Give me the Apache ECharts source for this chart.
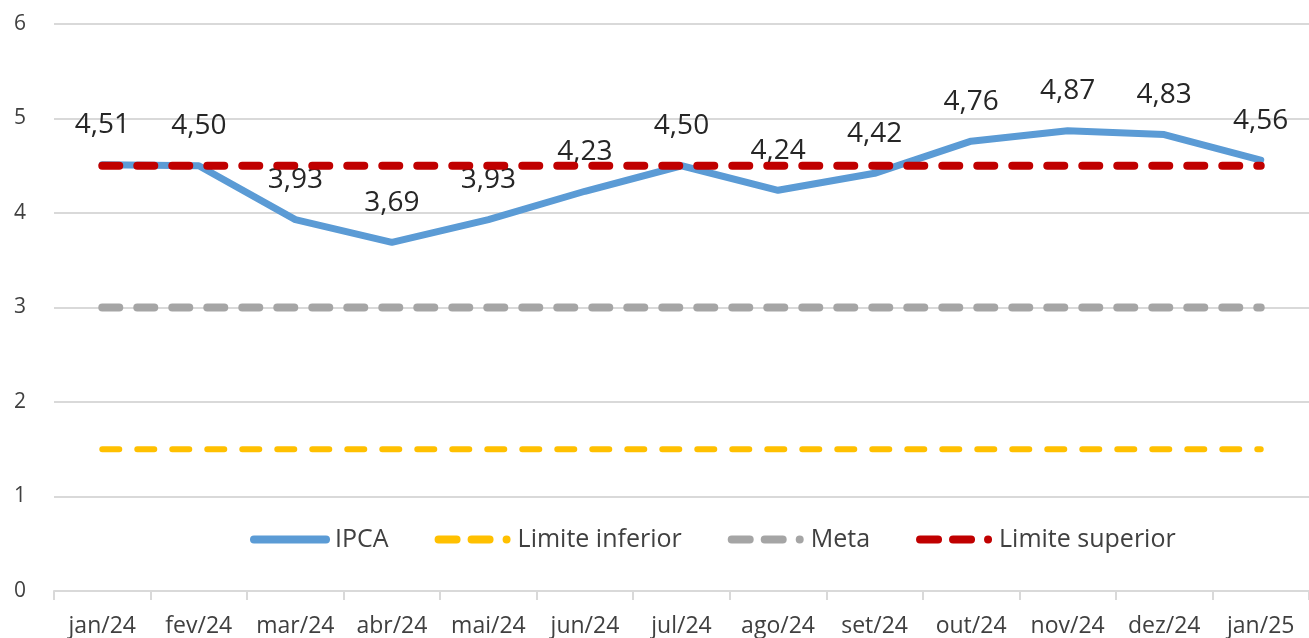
<!DOCTYPE html>
<html>
<head>
	<meta charset="utf-8"/>
	<title>IPCA x meta</title>
	<script src="https://cdn.jsdelivr.net/npm/echarts@6/dist/echarts.min.js"></script>
	<style>
		html, body { margin: 0; padding: 0; background: #fff; }
		#chart { width: 1309px; height: 638px; }
	</style>
</head>
<body>
<div id="chart"></div>
<script>
    // dados
    var meses = ['jan/24','fev/24','mar/24','abr/24','mai/24','jun/24','jul/24','ago/24','set/24','out/24','nov/24','dez/24','jan/25'];
    var ipca = [4.51, 4.50, 3.93, 3.69, 3.93, 4.23, 4.50, 4.24, 4.42, 4.76, 4.87, 4.83, 4.56];
    var limInf = [1.5, 1.5, 1.5, 1.5, 1.5, 1.5, 1.5, 1.5, 1.5, 1.5, 1.5, 1.5, 1.5];
    var meta = [3, 3, 3, 3, 3, 3, 3, 3, 3, 3, 3, 3, 3];
    var limSup = [4.5, 4.5, 4.5, 4.5, 4.5, 4.5, 4.5, 4.5, 4.5, 4.5, 4.5, 4.5, 4.5];

    var fonte = '"Open Sans", Lato, sans-serif';

    // icones da legenda (80 x 8)
    var iconeSolido = 'path://M4,0 H76 A4,4 0 0 1 76,8 H4 A4,4 0 0 1 4,0 Z';
    var iconeTraco = 'path://M4,0 H22 A4,4 0 0 1 22,8 H4 A4,4 0 0 1 4,0 Z ' +
        'M37,0 H55 A4,4 0 0 1 55,8 H37 A4,4 0 0 1 37,0 Z ' +
        'M72,0 A4,4 0 0 1 72,8 A4,4 0 0 1 72,0 Z';

    function dashed(name, data, cor, larg) {
        return {
            name: name,
            type: 'line',
            data: data,
            symbol: 'none',
            silent: true,
            lineStyle: { color: cor, width: larg, type: [17, 18], cap: 'round' },
            itemStyle: { color: cor }
        };
    }

    var myChart = echarts.init(document.getElementById('chart'));
    var option = {
        animation: false,
        textStyle: { fontFamily: fonte },
        grid: { left: 54, right: -13, top: 24, bottom: 47 },
        legend: {
            left: 245,
            top: 522,
            itemWidth: 80,
            itemHeight: 8,
            itemGap: 46,
            textStyle: { fontSize: 25, color: '#404040', fontFamily: fonte },
            data: [
                { name: 'IPCA', icon: iconeSolido },
                { name: 'Limite inferior', icon: iconeTraco },
                { name: 'Meta', icon: iconeTraco },
                { name: 'Limite superior', icon: iconeTraco }
            ]
        },
        xAxis: {
            type: 'category',
            data: meses,
            boundaryGap: true,
            axisLine: { lineStyle: { color: '#d9d9d9', width: 2 } },
            axisTick: { show: true, length: 9, lineStyle: { color: '#d9d9d9', width: 2 } },
            axisLabel: { color: '#404040', fontSize: 23, margin: 24, interval: 0 }
        },
        yAxis: {
            type: 'value',
            min: 0,
            max: 6,
            interval: 1,
            axisLine: { show: false },
            axisTick: { show: false },
            splitLine: { lineStyle: { color: '#d9d9d9', width: 2 } },
            axisLabel: { color: '#404040', fontSize: 21, margin: 28 }
        },
        series: [
            {
                name: 'IPCA',
                type: 'line',
                data: ipca,
                symbol: 'circle',
                symbolSize: 1,
                showSymbol: true,
                lineStyle: { color: '#5b9bd5', width: 7, cap: 'round', join: 'round' },
                itemStyle: { color: '#5b9bd5' },
                label: {
                    show: true,
                    position: 'top',
                    distance: 25,
                    fontSize: 28,
                    color: '#262626',
                    fontFamily: fonte,
                    formatter: function (p) { return p.value.toFixed(2).replace('.', ','); }
                },
                z: 3
            },
            dashed('Limite inferior', limInf, '#ffc000', 6),
            dashed('Meta', meta, '#a5a5a5', 8),
            Object.assign(dashed('Limite superior', limSup, '#c00000', 8), { z: 4 })
        ]
    };
    myChart.setOption(option);
</script>
</body>
</html>
